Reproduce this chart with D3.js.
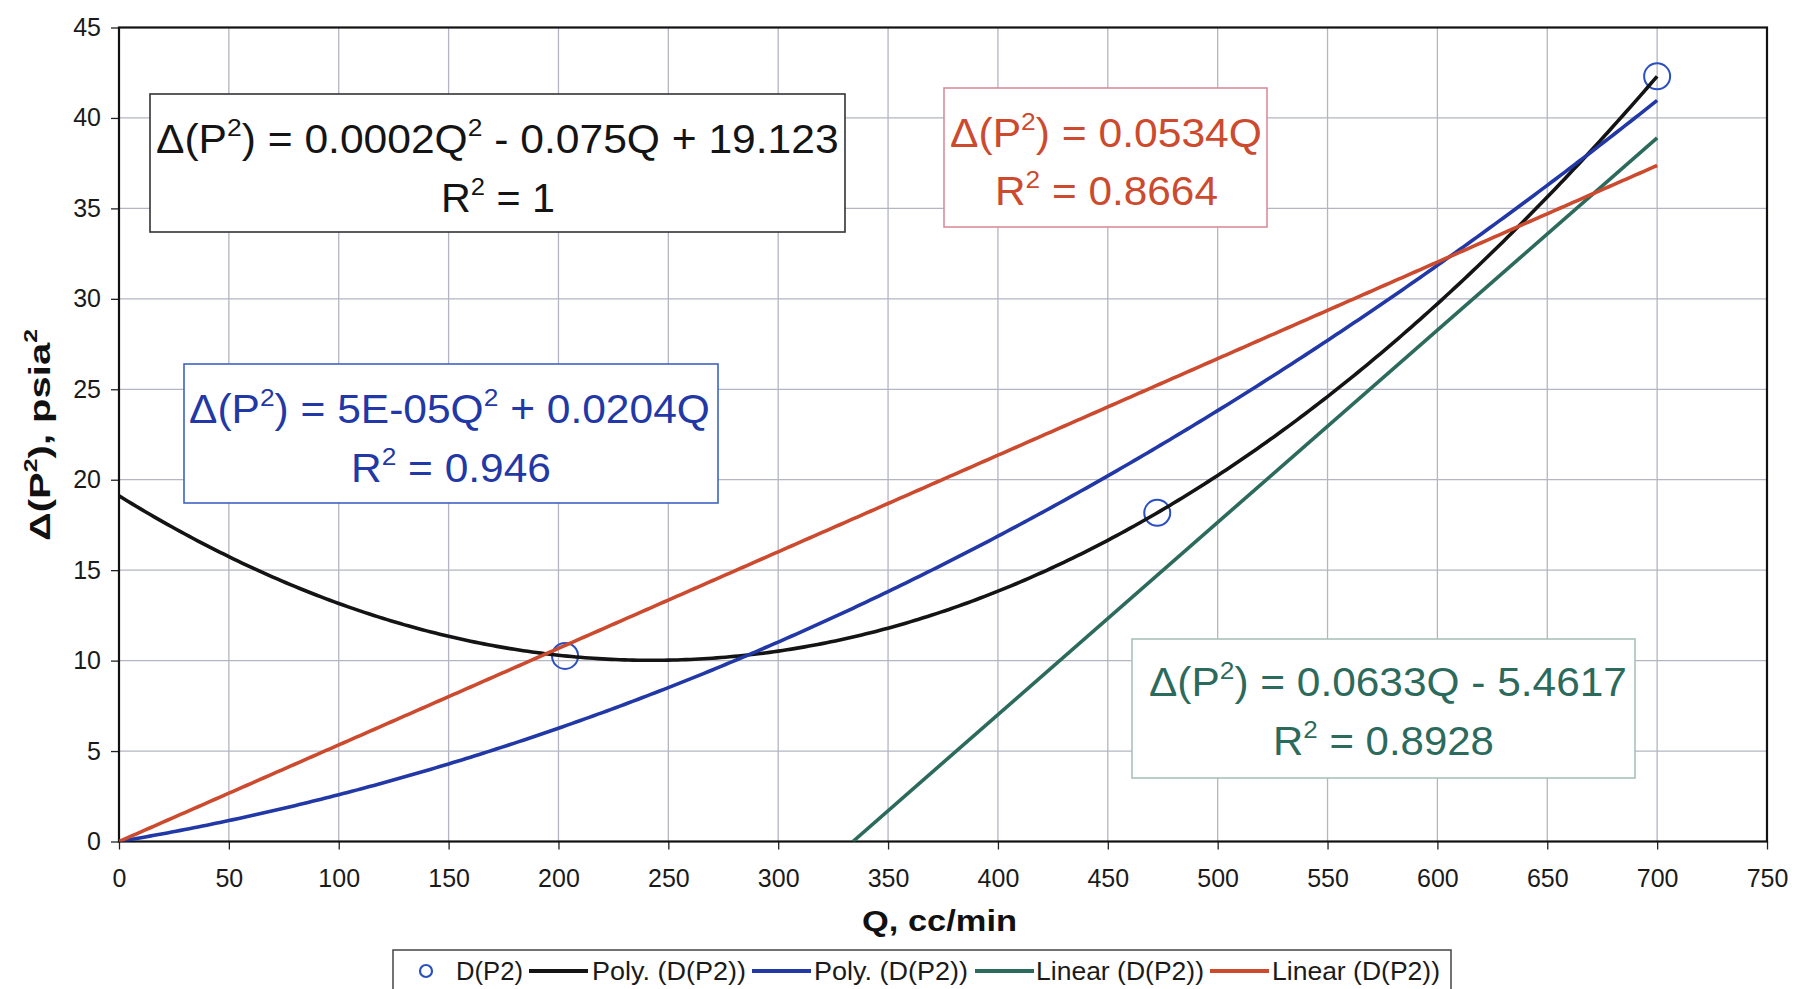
<!DOCTYPE html>
<html>
<head>
<meta charset="utf-8">
<script src="https://cdn.jsdelivr.net/npm/d3@7"></script>
<style>
  body { margin: 0; background: #fff; }
  svg { display: block; font-family: "Liberation Sans", Arial, sans-serif; }
</style>
</head>
<body>
<script>
// measured points, D(P2) vs Q
const flowRates = [203, 472.5, 700];
const deltaP2 = [10.26, 18.17, 42.3];

// the green linear line as drawn on the chart (it does not follow its printed equation)
const greenLineQ = [334, 700];
const greenLineValues = [0, 38.9];

const xTickValues = [0, 50, 100, 150, 200, 250, 300, 350, 400, 450, 500, 550, 600, 650, 700, 750];
const yTickValues = [0, 5, 10, 15, 20, 25, 30, 35, 40, 45];

const legendLabels = ["D(P2)", "Poly. (D(P2))", "Poly. (D(P2))", "Linear (D(P2))", "Linear (D(P2))"];

// trendline equations as printed on the chart (^2 = superscript)
const eqBlack = ["Δ(P^2) = 0.0002Q^2 - 0.075Q + 19.123", "R^2 = 1"];
const eqRed = ["Δ(P^2) = 0.0534Q", "R^2 = 0.8664"];
const eqBlue = ["Δ(P^2) = 5E-05Q^2 + 0.0204Q", "R^2 = 0.946"];
const eqGreen = ["Δ(P^2) = 0.0633Q - 5.4617", "R^2 = 0.8928"];

const colors = {
  marker: "#2a4fc0",
  black: "#141414",
  blue: "#2238a6",
  green: "#2c6a5c",
  red: "#cc4a2e",
  grid: "#b3b6c2"
};

init();

function init() {
  let width = 1795, height = 989,
      margin = {l: 119, r: 28, t: 27.5, b: 147.5};

  let svg = d3.select("body").append("svg")
              .attr("width", width)
              .attr("height", height);

  let x = d3.scaleLinear().domain([0, 750]).range([margin.l, width - margin.r]);
  let y = d3.scaleLinear().domain([0, 45]).range([height - margin.b, margin.t]);

  // grid
  svg.append("g").selectAll("line")
     .data(xTickValues.filter(v => v > 0 && v < 750))
     .enter().append("line")
     .attr("x1", d => x(d)).attr("x2", d => x(d))
     .attr("y1", y(0)).attr("y2", y(45))
     .attr("stroke", colors.grid).attr("stroke-width", 1.3);
  svg.append("g").selectAll("line")
     .data(yTickValues.filter(v => v > 0 && v < 45))
     .enter().append("line")
     .attr("x1", x(0)).attr("x2", x(750))
     .attr("y1", d => y(d)).attr("y2", d => y(d))
     .attr("stroke", colors.grid).attr("stroke-width", 1.3);

  // axes
  let xAxis = svg.append("g")
     .attr("transform", `translate(0,${y(0)})`)
     .call(d3.axisBottom(x).tickValues(xTickValues).tickSize(8).tickPadding(20));
  let yAxis = svg.append("g")
     .attr("transform", `translate(${x(0)},0)`)
     .call(d3.axisLeft(y).tickValues(yTickValues).tickSize(8).tickPadding(10));
  [xAxis, yAxis].forEach(a => {
    a.select(".domain").remove();
    a.selectAll("line").attr("stroke", "#222").attr("stroke-width", 1.3);
    a.selectAll("text").attr("font-size", 25).attr("fill", "#1a1a1a")
     .attr("font-family", "'Liberation Sans', Arial, sans-serif");
  });

  // frame
  svg.append("rect")
     .attr("x", x(0)).attr("y", y(45))
     .attr("width", x(750) - x(0)).attr("height", y(0) - y(45))
     .attr("fill", "none").attr("stroke", "#111").attr("stroke-width", 2.2);

  svg.append("clipPath").attr("id", "plot-clip")
     .append("rect")
     .attr("x", x(0)).attr("y", y(45))
     .attr("width", x(750) - x(0)).attr("height", y(0) - y(45));

  // data markers
  let pts = flowRates.map((q, i) => ({q: q, v: deltaP2[i]}));
  svg.append("g").selectAll("circle")
     .data(pts).enter().append("circle")
     .attr("cx", d => x(d.q)).attr("cy", d => y(d.v))
     .attr("r", 13)
     .attr("fill", "none").attr("stroke", colors.marker).attr("stroke-width", 2);

  // trendlines, least squares on the points
  let fits = [
    {basis: [q => 1, q => q, q => q * q], color: colors.black},
    {basis: [q => q, q => q * q], color: colors.blue},
    {basis: [q => q], color: colors.red}
  ];
  let qs = d3.range(0, 700.01, 2);
  let line = d3.line().x(d => x(d[0])).y(d => y(d[1]));
  let lines = svg.append("g").attr("clip-path", "url(#plot-clip)");
  let curves = fits.map(f => {
    let c = leastSquares(f.basis, flowRates, deltaP2);
    let fn = q => f.basis.reduce((s, b, i) => s + c[i] * b(q), 0);
    return {pts: qs.map(q => [q, fn(q)]), color: f.color};
  });
  // legend order: black, blue, green, red
  curves.splice(2, 0, {pts: greenLineQ.map((q, i) => [q, greenLineValues[i]]), color: colors.green});
  curves.forEach(c => {
    lines.append("path")
         .attr("d", line(c.pts))
         .attr("fill", "none")
         .attr("stroke", c.color)
         .attr("stroke-width", 3.6);
  });

  // equation boxes
  eqBox(svg, eqBlack, colors.black, "#333",
        {x: 150, y: 94, w: 695, h: 138},
        [{x: 156, y: 153, w: 683}, {x: 441, y: 212, w: 114}]);
  eqBox(svg, eqRed, colors.red, "#d98c9c",
        {x: 944, y: 88, w: 323, h: 139},
        [{x: 950, y: 147, w: 312}, {x: 995, y: 205, w: 223}]);
  eqBox(svg, eqBlue, colors.blue, "#3d63c4",
        {x: 184, y: 364, w: 534, h: 139},
        [{x: 189, y: 423, w: 521}, {x: 351, y: 482, w: 200}]);
  eqBox(svg, eqGreen, colors.green, "#a9c2bb",
        {x: 1132, y: 639, w: 503, h: 139},
        [{x: 1149, y: 696, w: 478}, {x: 1273, y: 755, w: 221}]);

  // axis titles
  let xt = svg.append("text").attr("font-weight", "bold").attr("fill", "#111");
  addParts(xt, "Q, cc/min", 29);
  fitText(xt, 862, 931, 155);

  let yt = svg.append("text").attr("font-weight", "bold").attr("fill", "#111");
  addParts(yt, "Δ(P^2), psia^2", 30);
  let ylen = yt.node().getComputedTextLength();
  yt.attr("transform", `translate(50,${435 + 212 / 2}) rotate(-90) scale(${212 / ylen},1)`);

  // legend
  let lg = svg.append("g");
  lg.append("rect")
    .attr("x", 393).attr("y", 950).attr("width", 1058).attr("height", 60)
    .attr("fill", "#fff").attr("stroke", "#444").attr("stroke-width", 1.5);
  lg.append("circle").attr("cx", 426).attr("cy", 971).attr("r", 6)
    .attr("fill", "none").attr("stroke", colors.marker).attr("stroke-width", 2.2);
  let sw = [null, colors.black, colors.blue, colors.green, colors.red];
  let swX = [null, 529, 752, 975, 1210];
  let txX = [456, 592, 814, 1036, 1272];
  let txW = [67, 154, 154, 168, 168];
  legendLabels.forEach((lab, i) => {
    if (sw[i]) {
      lg.append("line")
        .attr("x1", swX[i]).attr("x2", swX[i] + 59)
        .attr("y1", 971).attr("y2", 971)
        .attr("stroke", sw[i]).attr("stroke-width", 4);
    }
    let t = lg.append("text").attr("fill", "#1a1a1a");
    addParts(t, lab, 25);
    fitText(t, txX[i], 980, txW[i]);
  });
}

function eqBox(svg, lines, color, border, box, pos) {
  let g = svg.append("g");
  g.append("rect")
   .attr("x", box.x).attr("y", box.y).attr("width", box.w).attr("height", box.h)
   .attr("fill", "#fff").attr("stroke", border).attr("stroke-width", 1.6);
  lines.forEach((s, i) => {
    let t = g.append("text").attr("fill", color);
    addParts(t, s, 40);
    fitText(t, pos[i].x, pos[i].y, pos[i].w);
  });
}

// "^2" becomes a superscript tspan
function addParts(t, s, size) {
  t.attr("font-size", size);
  let parts = s.split(/\^(\d)/);
  let up = size * 0.42;
  let raised = false;
  parts.forEach((p, i) => {
    if (p === "") return;
    let sp = t.append("tspan").text(p);
    if (i % 2 === 1) {
      sp.attr("font-size", size * 0.62).attr("dy", -up);
      raised = true;
    } else if (raised) {
      sp.attr("dy", up);
      raised = false;
    }
  });
}

function fitText(t, x, y, w) {
  let len = t.node().getComputedTextLength();
  t.attr("transform", `translate(${x},${y}) scale(${w / len},1)`);
}

function leastSquares(basis, xs, ys) {
  let n = basis.length;
  let A = d3.range(n).map(() => new Array(n).fill(0));
  let b = new Array(n).fill(0);
  xs.forEach((q, k) => {
    let row = basis.map(f => f(q));
    for (let i = 0; i < n; i++) {
      b[i] += row[i] * ys[k];
      for (let j = 0; j < n; j++) A[i][j] += row[i] * row[j];
    }
  });
  // gaussian elimination
  for (let i = 0; i < n; i++) {
    let p = i;
    for (let r = i + 1; r < n; r++) if (Math.abs(A[r][i]) > Math.abs(A[p][i])) p = r;
    [A[i], A[p]] = [A[p], A[i]];
    [b[i], b[p]] = [b[p], b[i]];
    for (let r = i + 1; r < n; r++) {
      let f = A[r][i] / A[i][i];
      for (let c = i; c < n; c++) A[r][c] -= f * A[i][c];
      b[r] -= f * b[i];
    }
  }
  let c = new Array(n).fill(0);
  for (let i = n - 1; i >= 0; i--) {
    let s = b[i];
    for (let j = i + 1; j < n; j++) s -= A[i][j] * c[j];
    c[i] = s / A[i][i];
  }
  return c;
}
</script>
</body>
</html>
